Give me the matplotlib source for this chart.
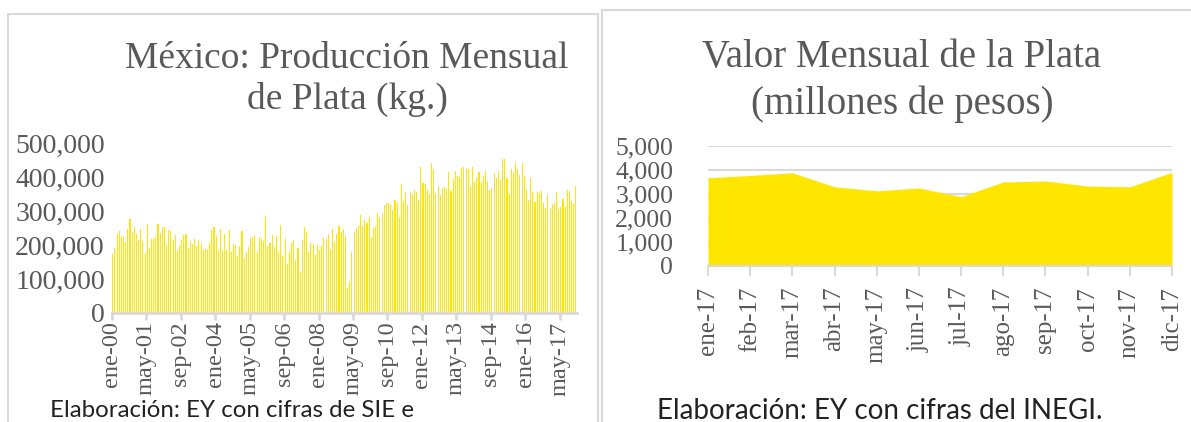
import matplotlib.pyplot as plt
from matplotlib.patches import Rectangle
from matplotlib.ticker import FuncFormatter
import numpy as np

# Monthly silver production (kg), ene-00 .. dic-17 (thousands)
produccion_k = [
    174, 190, 232, 240, 224, 227, 209, 248, 277, 238, 253, 233,
    215, 248, 212, 176, 262, 192, 218, 217, 225, 261, 235, 252,
    254, 200, 244, 240, 214, 230, 182, 197, 214, 230, 232, 192,
    212, 202, 218, 198, 215, 203, 185, 189, 188, 205, 243, 254,
    227, 185, 248, 182, 232, 184, 244, 180, 204, 200, 167, 197,
    240, 162, 178, 194, 222, 223, 229, 178, 223, 219, 212, 286,
    198, 207, 229, 194, 226, 180, 259, 167, 219, 143, 180, 206,
    215, 155, 191, 121, 215, 252, 237, 179, 207, 203, 172, 200,
    186, 197, 220, 219, 233, 188, 246, 209, 233, 255, 237, 248,
    227, 75, 95, 180, 239, 249, 259, 289, 256, 275, 266, 283,
    220, 250, 254, 293, 283, 291, 318, 323, 323, 321, 304, 333,
    323, 281, 380, 330, 357, 319, 357, 346, 363, 357, 333, 430,
    382, 379, 362, 351, 440, 423, 354, 374, 346, 368, 372, 364,
    414, 358, 393, 417, 404, 399, 426, 429, 427, 423, 374, 429,
    386, 398, 414, 386, 404, 419, 388, 363, 368, 412, 397, 418,
    390, 452, 452, 397, 349, 423, 413, 441, 424, 405, 441, 403,
    363, 333, 397, 355, 326, 355, 352, 359, 325, 310, 347, 310,
    322, 325, 357, 306, 312, 334, 313, 363, 359, 330, 322, 375,
]
produccion = [v * 1000 for v in produccion_k]
prod_tick_labels = ["ene-00", "may-01", "sep-02", "ene-04", "may-05", "sep-06", "ene-08",
                    "may-09", "sep-10", "ene-12", "may-13", "sep-14", "ene-16", "may-17"]

# Monthly value 2017 (millions of pesos)
meses_2017 = ["ene-17", "feb-17", "mar-17", "abr-17", "may-17", "jun-17",
              "jul-17", "ago-17", "sep-17", "oct-17", "nov-17", "dic-17"]
valor_2017 = [3680, 3770, 3885, 3300, 3130, 3250, 2890, 3500, 3545, 3330, 3300, 3900]

W, H = 1191, 422
GRAY = "#595959"
LINE = "#D9D9D9"
YELLOW = "#FFE600"
SERIF = "Liberation Serif"

fig = plt.figure(figsize=(W / 100, H / 100), dpi=100)


def px_axes(x0, y0, x1, y1):
    # pixel box measured from the top-left corner
    return fig.add_axes([x0 / W, 1 - y1 / H, (x1 - x0) / W, (y1 - y0) / H])


# panel borders
fig.patches.append(Rectangle((7.5 / W, -0.1), (598 - 7.5) / W, 1.1 - 14 / H,
                             transform=fig.transFigure, fill=False,
                             edgecolor=LINE, lw=1.5))
fig.patches.append(Rectangle((602 / W, -0.1), 1.0, 1.1 - 10 / H,
                             transform=fig.transFigure, fill=False,
                             edgecolor=LINE, lw=1.5))

# ---- left: production bars
ax1 = px_axes(111.7, 143, 577, 313)
x = np.arange(len(produccion))
ax1.bar(x, produccion, width=0.5, color=YELLOW, linewidth=0)
ax1.set_xlim(-0.5, len(produccion) - 0.5)
ax1.set_ylim(0, 500000)
ax1.set_yticks(np.arange(0, 500001, 100000))
ax1.yaxis.set_major_formatter(FuncFormatter(lambda v, p: f"{int(v):,}"))
tick_pos = np.arange(len(prod_tick_labels)) * 16 - 0.5
ax1.set_xticks(tick_pos)
ax1.set_xticklabels(prod_tick_labels, rotation=90, ha="center", va="top")
for s in ["top", "right", "left"]:
    ax1.spines[s].set_visible(False)
ax1.spines["bottom"].set_color(LINE)
ax1.spines["bottom"].set_linewidth(2)
ax1.tick_params(axis="y", length=0, pad=5, labelsize=20, labelcolor=GRAY)
ax1.tick_params(axis="x", length=5, width=2, color=LINE, pad=1, labelsize=17.5, labelcolor=GRAY)
for t in ax1.get_xticklabels() + ax1.get_yticklabels():
    t.set_fontfamily(SERIF)

fig.text(347 / W, 1 - 79 / H, "México: Producción Mensual\nde Plata (kg.)",
         ha="center", va="center", fontsize=27, color=GRAY, family=SERIF,
         linespacing=1.22)

# ---- right: value area
ax2 = px_axes(708, 146, 1172, 266)
xm = np.arange(len(valor_2017))
ax2.fill_between(xm, valor_2017, color=YELLOW, linewidth=0, zorder=2)
ax2.set_xlim(0, len(valor_2017) - 1)
ax2.set_ylim(0, 5000)
ax2.set_yticks(np.arange(0, 5001, 1000))
ax2.yaxis.set_major_formatter(FuncFormatter(lambda v, p: f"{int(v):,}"))
ax2.grid(axis="y", color=LINE, lw=1.5, zorder=0)
ax2.set_axisbelow(True)
ax2.set_xticks(xm)
ax2.set_xticklabels(meses_2017, rotation=90, ha="center", va="top")
for s in ["top", "right", "left"]:
    ax2.spines[s].set_visible(False)
ax2.spines["bottom"].set_color(LINE)
ax2.spines["bottom"].set_linewidth(1.5)
ax2.tick_params(axis="y", length=0, pad=25, labelsize=18.5, labelcolor=GRAY)
ax2.tick_params(axis="x", length=7, width=1.5, color=LINE, pad=8, labelsize=18, labelcolor=GRAY)
for t in ax2.get_xticklabels() + ax2.get_yticklabels():
    t.set_fontfamily(SERIF)

fig.text(902 / W, 1 - 81 / H, "Valor Mensual de la Plata\n(millones de pesos)",
         ha="center", va="center", fontsize=28, color=GRAY, family=SERIF,
         linespacing=1.3)

# footers (cut at the bottom edge, as in the source)
fig.text(50 / W, 1 - 417 / H, "Elaboración: EY con cifras de SIE e",
         ha="left", va="baseline", fontsize=17.3, color="#222222", family="Lato")
fig.text(657 / W, 1 - 419 / H, "Elaboración: EY con cifras del INEGI.",
         ha="left", va="baseline", fontsize=20, color="#222222", family="Lato")

fig.savefig("out.png", dpi=100)
